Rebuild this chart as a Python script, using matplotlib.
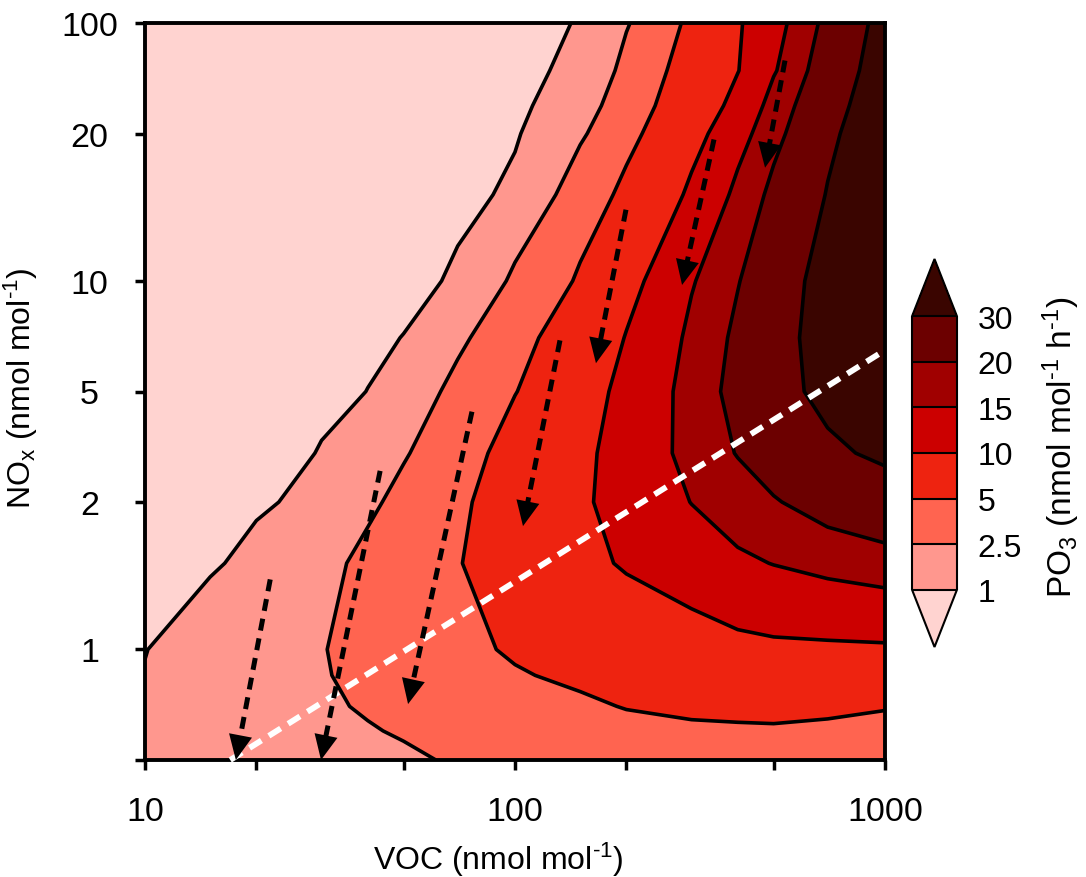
import numpy as np
import matplotlib
matplotlib.use("Agg")
import matplotlib.pyplot as plt
from matplotlib.colors import ListedColormap, BoundaryNorm
from matplotlib.ticker import FixedLocator, FixedFormatter, NullLocator, NullFormatter

plt.rcParams['font.family'] = ['Liberation Sans', 'DejaVu Sans']
plt.rcParams['mathtext.fontset'] = 'custom'
plt.rcParams['mathtext.rm'] = 'Liberation Sans'
plt.rcParams['mathtext.it'] = 'Liberation Sans:italic'
plt.rcParams['mathtext.bf'] = 'Liberation Sans:bold'

# ---------------- data ----------------
voc = [10, 15, 20, 30, 40, 50, 70, 100, 150, 200, 300, 400, 500, 700, 1000]
nox = [0.5, 0.6, 0.7, 0.85, 1, 1.5, 2, 3, 5, 7, 10, 15, 20, 30, 50, 100]
po3 = [
    [1.02, 1.40, 1.70, 1.90, 2.00, 2.25, 2.70, 3.00, 3.20, 3.20, 3.10, 3.00, 3.00, 3.00, 3.00],
    [1.02, 1.45, 1.80, 2.15, 2.40, 2.65, 3.20, 3.60, 4.00, 4.20, 4.50, 4.55, 4.60, 4.30, 4.00],
    [1.03, 1.50, 1.85, 2.30, 2.65, 3.00, 3.70, 4.15, 4.57, 5.13, 5.64, 5.90, 6.03, 5.79, 5.22],
    [1.03, 1.55, 1.90, 2.40, 2.90, 3.40, 4.20, 4.81, 5.52, 6.29, 7.06, 7.57, 7.80, 7.74, 7.54],
    [0.98, 1.52, 1.90, 2.43, 3.08, 3.65, 4.50, 5.29, 6.31, 7.27, 8.25, 8.98, 9.29, 9.37, 9.48],
    [0.75, 0.88, 1.30, 2.14, 2.85, 3.66, 4.87, 6.73, 8.93, 10.47, 12.40, 14.20, 15.14, 16.50, 17.70],
    [0.50, 0.70, 0.85, 1.35, 2.22, 2.96, 4.52, 6.69, 9.41, 11.67, 15.11, 17.63, 19.57, 22.80, 25.40],
    [0.30, 0.55, 0.71, 1.04, 1.80, 2.34, 3.93, 6.14, 9.09, 11.82, 16.63, 20.31, 23.50, 28.40, 32.00],
    [0.30, 0.48, 0.60, 0.80, 1.01, 1.71, 2.93, 4.90, 8.33, 11.17, 16.85, 22.15, 26.70, 33.00, 37.00],
    [0.30, 0.45, 0.55, 0.70, 0.84, 1.02, 2.16, 3.95, 7.25, 10.17, 16.00, 21.30, 26.90, 34.00, 39.00],
    [0.30, 0.40, 0.47, 0.55, 0.60, 0.70, 1.15, 2.79, 5.35, 8.59, 14.60, 19.67, 25.40, 34.00, 39.00],
    [0.30, 0.40, 0.46, 0.55, 0.60, 0.65, 0.73, 1.20, 3.45, 5.72, 10.78, 16.14, 21.54, 30.50, 38.00],
    [0.30, 0.42, 0.50, 0.60, 0.68, 0.74, 0.82, 0.90, 2.25, 4.10, 8.46, 13.16, 18.12, 27.90, 39.00],
    [0.30, 0.39, 0.45, 0.52, 0.57, 0.62, 0.67, 0.76, 1.80, 3.45, 7.40, 11.33, 16.75, 25.96, 38.00],
    [0.30, 0.38, 0.43, 0.50, 0.55, 0.60, 0.66, 0.72, 1.30, 2.95, 6.52, 9.86, 14.53, 23.80, 36.00],
    [0.30, 0.38, 0.43, 0.50, 0.55, 0.60, 0.67, 0.75, 1.05, 2.35, 5.60, 9.57, 13.10, 21.70, 34.00],
]
levels = [1, 2.5, 5, 10, 15, 20, 30]
level_labels = ['1', '2.5', '5', '10', '15', '20', '30']
level_colors = ['#FF978E', '#FF6450', '#EE2310', '#CC0000', '#A00000', '#6C0000']
under_color = '#FFD3D0'
over_color = '#3A0500'

x_major = [10, 100, 1000]
x_major_labels = ['10', '100', '1000']
x_minor = [20, 50, 200, 500]
y_ticks = [0.5, 1, 2, 5, 10, 20, 100]
y_tick_labels = ['', '1', '2', '5', '10', '20', '100']

# arrows: (VOC, NOx) start and tip
arrow_start_voc = [21.8, 43.2, 76.5, 132.3, 199.5, 345.0, 536.7]
arrow_start_nox = [1.39, 2.59, 4.23, 6.89, 13.98, 19.45, 57.9]
arrow_tip_voc = [17.6, 29.9, 51.4, 105.1, 165.5, 282.8, 474.0]
arrow_tip_nox = [0.5, 0.5, 0.71, 1.786, 5.97, 9.75, 17.03]

ridge_voc = [17.0, 1000]
ridge_nox = [0.5, 6.48]

# ---------------- y scale (axis positions of the tick values) ----------------
y_knot_vals = [0.5, 1, 2, 5, 10, 20, 100]
y_knot_pos = [0.0, 0.15, 0.35, 0.5, 0.65, 0.85, 1.0]
_lk = np.log10(y_knot_vals)
_s0 = (y_knot_pos[1] - y_knot_pos[0]) / (_lk[1] - _lk[0])
_s1 = (y_knot_pos[-1] - y_knot_pos[-2]) / (_lk[-1] - _lk[-2])
_lk_ext = np.concatenate([[_lk[0] - 20], _lk, [_lk[-1] + 20]])
_pos_ext = np.concatenate([[y_knot_pos[0] - 20 * _s0], y_knot_pos, [y_knot_pos[-1] + 20 * _s1]])


def y_fwd(y):
    y = np.asarray(y, dtype=float)
    ly = np.log10(np.clip(y, 1e-12, None))
    return np.interp(ly, _lk_ext, _pos_ext)


def y_inv(p):
    p = np.asarray(p, dtype=float)
    return 10 ** np.interp(p, _pos_ext, _lk_ext)


# ---------------- figure ----------------
fig = plt.figure(figsize=(10.86, 8.78), dpi=100)
ax = fig.add_axes([145 / 1086, 117 / 878, 740 / 1086, 737 / 878])
ax.set_xscale('log')
ax.set_yscale('function', functions=(y_fwd, y_inv))

cmap = ListedColormap(level_colors)
cmap.set_under(under_color)
cmap.set_over(over_color)
norm = BoundaryNorm(levels, cmap.N)

Z = np.array(po3)
cf = ax.contourf(voc, nox, Z, levels=levels, cmap=cmap, norm=norm, extend='both')
ax.contour(voc, nox, Z, levels=levels, colors='k', linewidths=2.6)

ax.set_xlim(10, 1000)
ax.set_ylim(0.5, 100)

# white dashed ridge line
ax.plot(ridge_voc, ridge_nox, color='white', lw=4.2, linestyle=(0, (2.4, 1.5)),
        dash_capstyle='butt', clip_on=False, zorder=5)

# black dashed arrows (shaft + solid head)
head_px = 20
for xs, ys, xt, yt in zip(arrow_start_voc, arrow_start_nox, arrow_tip_voc, arrow_tip_nox):
    p0 = ax.transData.transform((xs, ys))
    p1 = ax.transData.transform((xt, yt))
    d = p1 - p0
    u = d / np.hypot(d[0], d[1])
    xb, yb = ax.transData.inverted().transform(p1 - u * head_px)
    ax.plot([xs, xb], [ys, yb], color='k', lw=3.6, linestyle=(0, (2.4, 1.6)),
            dash_capstyle='butt', zorder=6, clip_on=False)
    ax.annotate('', xy=(xt, yt), xytext=(xs, ys),
                arrowprops=dict(arrowstyle='-|>,head_length=0.9,head_width=0.42',
                                mutation_scale=20, lw=0, fc='k', ec='none',
                                shrinkA=0, shrinkB=0),
                zorder=6, annotation_clip=False)

ax.xaxis.set_major_locator(FixedLocator(x_major))
ax.xaxis.set_major_formatter(FixedFormatter(x_major_labels))
ax.xaxis.set_minor_locator(FixedLocator(x_minor))
ax.xaxis.set_minor_formatter(NullFormatter())
ax.yaxis.set_major_locator(FixedLocator(y_ticks))
ax.yaxis.set_major_formatter(FixedFormatter(y_tick_labels))
ax.yaxis.set_minor_locator(NullLocator())

ax.tick_params(axis='both', which='both', direction='out', width=2.5, length=7,
               labelsize=24.5, color='k')
ax.tick_params(axis='x', which='major', pad=19)
ax.tick_params(axis='y', which='major', pad=33)
for lab in ax.get_yticklabels():
    lab.set_horizontalalignment('center')

for side in ['left', 'bottom', 'top', 'right']:
    ax.spines[side].set_linewidth(2.8)

ax.set_xlabel(r'VOC (nmol mol$^{\text{-}1}$)', fontsize=23)
ax.xaxis.set_label_coords(0.477, -0.108)
ax.set_ylabel(r'NO$_\mathrm{x}$ (nmol mol$^{\text{-}1}$)', fontsize=23)
ax.yaxis.set_label_coords(-0.142, 0.506)

# colorbar (axes spans tip to tip of the extension triangles)
cax = fig.add_axes([912 / 1086, 230 / 878, 45 / 1086, 388 / 878])
cb = fig.colorbar(cf, cax=cax, extend='both', extendfrac=0.21, drawedges=True,
                  ticks=levels)
cb.set_ticklabels(level_labels)
cb.ax.tick_params(length=0, labelsize=23, pad=15)
cb.outline.set_linewidth(1.5)
cb.dividers.set_linewidth(1.5)
cb.dividers.set_color('k')
cb.set_label(r'PO$_3$ (nmol mol$^{\text{-}1}$ h$^{\text{-}1}$)', fontsize=24)
cb.ax.yaxis.set_label_coords(2.85, 0.523)

fig.savefig('out.png', dpi=100, facecolor='white')
